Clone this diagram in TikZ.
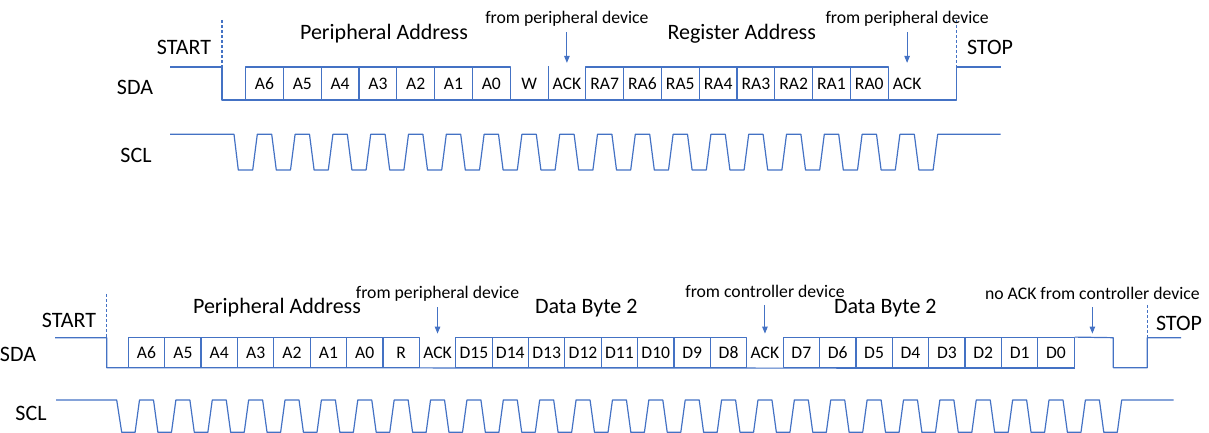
\documentclass[tikz,border=0pt]{standalone}
\usepackage{fontspec}
\setmainfont{Carlito}
\usetikzlibrary{positioning, arrows.meta}
\definecolor{wave}{HTML}{4472C4}

\begin{document}
\begin{tikzpicture}[x=1pt,y=1pt,on grid,
   sig/.style={draw=wave,line width=1.2pt,line join=round},
   bit/.style={sig,rectangle,minimum width=37.8pt,minimum height=33pt,inner sep=0pt,font=\fontsize{17.6}{20}\selectfont},
   cell/.style={bit,draw=none},
   big/.style={font=\fontsize{22}{26}\selectfont},
   small/.style={font=\fontsize{17.7}{20}\selectfont},
   edgemark/.style={sig,dash pattern=on 3pt off 2pt},
   ackarrow/.style={sig,line width=1pt,-{Triangle[length=7pt,width=5.5pt]},shorten <=14pt,shorten >=3.5pt}]
   \useasboundingbox (0,0) rectangle (1209,433);

   % write: peripheral address + register address
   \foreach \b [count=\i from 0] in {A6,A5,A4,A3,A2,A1,A0}
      \node[bit] (t\b) at (264.5+37.8*\i,349.5) {\b};
   \node[cell] (tW) at (264.5+37.8*7,349.5) {W};
   \node[cell] (tack1) at (264.5+37.8*8,349.5) {ACK};
   \foreach \b [count=\i from 9] in {RA7,RA6,RA5,RA4,RA3,RA2,RA1,RA0}
      \node[bit] (t\b) at (264.5+37.8*\i,349.5) {\b};
   \node[cell] (tack2) at (264.5+37.8*17,349.5) {ACK};

   \draw[sig] (170,366) -- (222,366) -- (222,333) -- (956.7,333) -- (956.7,366) -- (1000.7,366);
   \draw[sig] (tW.north east) -- (tW.south east);
   \draw[edgemark] (222,413) -- (222,366);
   \draw[edgemark] (956.7,413) -- (956.7,366);

   \draw[sig] (170,298.7) -- (234,298.7) -- (238.3,263)
      \foreach \i in {0,...,17} {
         -- (264.5+37.8*\i-11.8,263) -- (264.5+37.8*\i-7.2,298.7)
         -- (264.5+37.8*\i+7.2,298.7) -- (264.5+37.8*\i+11.8,263) }
      -- (933.1,263) -- (937.7,298.7) -- (1000.7,298.7);

   \node[big] (sdaT) at (135,346) {SDA};
   \node[big] (sclT) at (136,278) {SCL};
   \node[big] (startT) at (184,385.5) {START};
   \node[big] (stopT) at (990,385.5) {STOP};
   \node[big] (paT) at (384,399.6) {Peripheral Address};
   \node[big] (raT) at (741.7,399.4) {Register Address};
   \node[small,above=65pt of tack1] (fp1) {from peripheral device};
   \node[small,above=65pt of tack2] (fp2) {from peripheral device};
   \draw[ackarrow] (fp1.center) -- (tack1.north);
   \draw[ackarrow] (fp2.center) -- (tack2.north);

   % read: peripheral address + two data bytes
   \begin{scope}[bit/.append style={minimum width=36.38pt,minimum height=30pt}]
   \foreach \b [count=\i from 0] in {A6,A5,A4,A3,A2,A1,A0,R}
      \node[bit] (b\b) at (146.5+36.38*\i,80.3) {\b};
   \node[cell] (back1) at (146.5+36.38*8,80.3) {ACK};
   \foreach \b [count=\i from 9] in {D15,D14,D13,D12,D11,D10,D9,D8}
      \node[bit] (b\b) at (146.5+36.38*\i,80.3) {\b};
   \node[cell] (back2) at (146.5+36.38*17,80.3) {ACK};
   \foreach \b [count=\i from 18] in {D7,D6,D5,D4,D3,D2,D1,D0}
      \node[bit] (b\b) at (146.5+36.38*\i,80.3) {\b};
   \node[cell] (bnack) at (146.5+36.38*26,80.3) {};
   \end{scope}

   \draw[sig] (55,95.3) -- (106.7,95.3) -- (106.7,65.3) -- (bD0.south east);
   \draw[sig] (bD0.north east) -- (1113.3,95.3) -- (1113.3,65.3) -- (1147.3,65.3) -- (1147.3,95.3) -- (1181,95.3);
   \draw[edgemark] (106.7,139) -- (106.7,95.3);
   \draw[edgemark] (1147.3,128) -- (1147.3,95.3);

   \draw[sig] (56,33) -- (116.7,33) -- (121.7,0.7)
      \foreach \i in {0,...,26} {
         -- (146.5+36.38*\i-11.4,0.7) -- (146.5+36.38*\i-7,33)
         -- (146.5+36.38*\i+7,33) -- (146.5+36.38*\i+11.4,0.7) }
      -- (1117.3,0.7) -- (1121.7,33) -- (1173.7,33);

   \node[big] (sdaB) at (18,79) {SDA};
   \node[big] (sclB) at (31,20) {SCL};
   \node[big] (startB) at (69,112.3) {START};
   \node[big] (stopB) at (1179,109.7) {STOP};
   \node[big] (paB) at (277,125.5) {Peripheral Address};
   \node[big] (db1) at (586.3,125.3) {Data Byte 2};
   \node[big] (db2) at (885.3,125.3) {Data Byte 2};
   \node[small,above=59.4pt of back1] (fp3) {from peripheral device};
   \node[small,above=61.7pt of back2] (fc) {from controller device};
   \node[small,above=59.4pt of bnack] (nfc) {no ACK from controller device};
   \draw[ackarrow] (fp3.center) -- (back1.north);
   \draw[ackarrow] (fc.center) -- (back2.north);
   \draw[ackarrow] (nfc.center) -- (bnack.north);
\end{tikzpicture}
\end{document}
